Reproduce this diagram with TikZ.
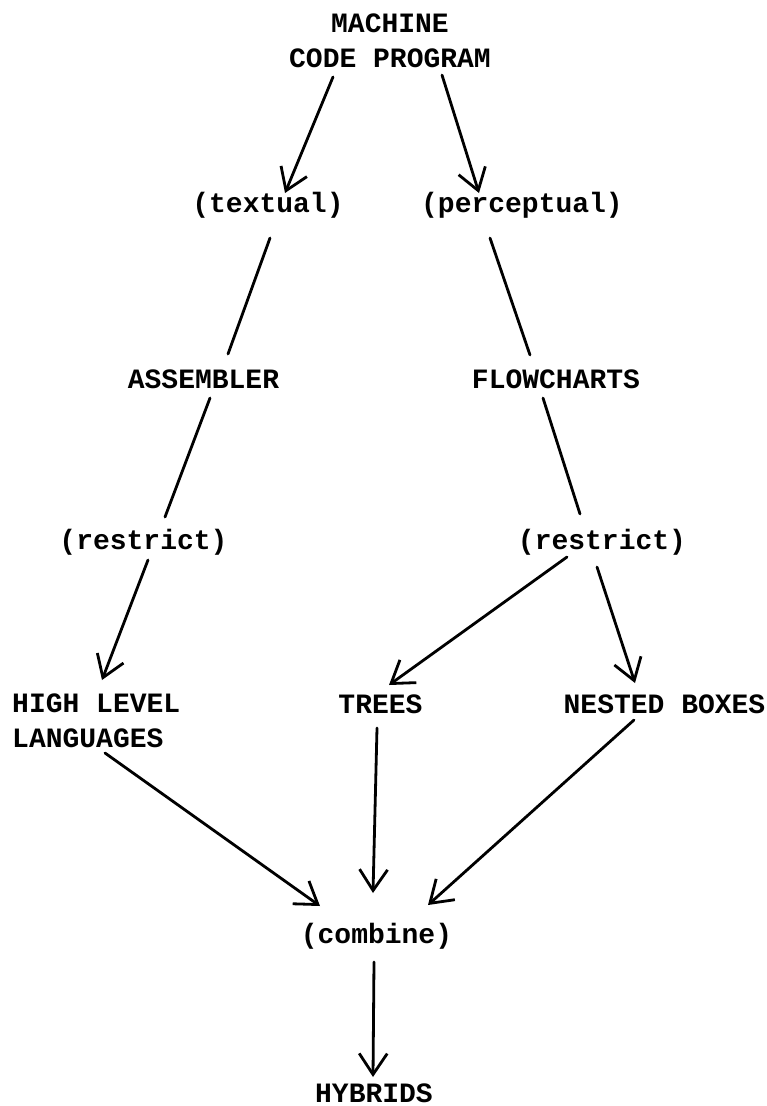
\documentclass[tikz,border=0pt]{standalone}
\usepackage{fontspec}
\setmainfont{Liberation Mono}
\usetikzlibrary{arrows.meta}
\begin{document}
\begin{tikzpicture}[x=1pt,y=-1pt,
  lbl/.style={inner sep=0pt, font=\fontsize{28}{35}\selectfont\bfseries},
  conn/.style={line width=2.8pt, line cap=round},
  arr/.style={conn, -{Straight Barb[length=21pt,width=28pt]}}
]
\useasboundingbox (0,0) rectangle (767,1106);
% nodes
\node[lbl, align=center, anchor=base] (machine) at (390,67) {MACHINE\\CODE PROGRAM};
\node[lbl, anchor=base] (textual) at (268,212) {(textual)};
\node[lbl, anchor=base] (perceptual) at (522,212) {(perceptual)};
\node[lbl, anchor=base] (assembler) at (203.5,388) {ASSEMBLER};
\node[lbl, anchor=base] (flowcharts) at (556,388) {FLOWCHARTS};
\node[lbl, anchor=base] (restrictL) at (143.5,549) {(restrict)};
\node[lbl, anchor=base] (restrictR) at (602,549) {(restrict)};
\node[lbl, align=left, anchor=base west] (high) at (12,747) {HIGH LEVEL\\LANGUAGES};
\node[lbl, anchor=base] (trees) at (380.5,713) {TREES};
\node[lbl, anchor=base] (nested) at (664.5,713) {NESTED BOXES};
\node[lbl, anchor=base] (combine) at (376.5,943) {(combine)};
\node[lbl, anchor=base] (hybrids) at (374,1102) {HYBRIDS};
% connectors
\draw[arr] ([shift={(-57,10)}]machine.base) -- ([shift={(17,-19)}]textual.base);
\draw[arr] ([shift={(52,8)}]machine.base) -- ([shift={(-43,-19)}]perceptual.base);
\draw[conn] ([shift={(2,26)}]textual.base) -- ([shift={(24.5,-34)}]assembler.base);
\draw[conn] ([shift={(-32,26)}]perceptual.base) -- ([shift={(-26,-33)}]flowcharts.base);
\draw[conn] ([shift={(6.5,10)}]assembler.base) -- ([shift={(21.5,-32)}]restrictL.base);
\draw[conn] ([shift={(-13,10)}]flowcharts.base) -- ([shift={(-22,-35)}]restrictR.base);
\draw[arr] ([shift={(4.5,11)}]restrictL.base) -- ([shift={(90,-67)}]high.base west);
\draw[arr] ([shift={(-35,8)}]restrictR.base) -- ([shift={(8.5,-28)}]trees.base);
\draw[arr] ([shift={(-5,18)}]restrictR.base) -- ([shift={(-29.5,-30)}]nested.base);
\draw[arr] ([shift={(93,6)}]high.base west) -- ([shift={(-56.5,-37)}]combine.base);
\draw[arr] ([shift={(-3.5,15)}]trees.base) -- ([shift={(-3.5,-50)}]combine.base);
\draw[arr] ([shift={(-30.5,7)}]nested.base) -- ([shift={(51.5,-38)}]combine.base);
\draw[arr] ([shift={(-2.5,19)}]combine.base) -- ([shift={(-1,-25)}]hybrids.base);
\end{tikzpicture}
\end{document}
